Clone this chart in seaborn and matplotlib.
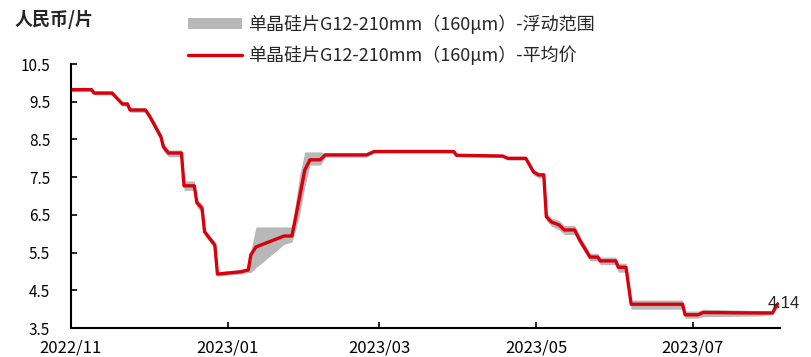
import pandas as pd
import numpy as np
import seaborn as sns
import matplotlib.pyplot as plt
from matplotlib.patches import Patch
from matplotlib.lines import Line2D

sns.set_style('ticks')
plt.rcParams['font.family'] = ['Noto Sans CJK SC', 'DejaVu Sans']
plt.rcParams['axes.unicode_minus'] = False

dates = ['2022-11-01', '2022-11-09', '2022-11-10', '2022-11-17', '2022-11-21', '2022-11-23',
         '2022-11-24', '2022-11-30', '2022-12-02', '2022-12-06', '2022-12-07', '2022-12-09',
         '2022-12-14', '2022-12-15', '2022-12-19', '2022-12-20', '2022-12-22', '2022-12-23',
         '2022-12-27', '2022-12-28', '2023-01-06', '2023-01-09', '2023-01-10', '2023-01-12',
         '2023-01-23', '2023-01-26', '2023-01-29', '2023-01-31', '2023-02-02', '2023-02-06',
         '2023-02-08', '2023-02-24', '2023-02-27', '2023-03-30', '2023-03-31', '2023-04-18',
         '2023-04-20', '2023-04-27', '2023-04-30', '2023-05-02', '2023-05-04', '2023-05-05',
         '2023-05-07', '2023-05-10', '2023-05-12', '2023-05-16', '2023-05-18', '2023-05-22',
         '2023-05-25', '2023-05-26', '2023-06-01', '2023-06-02', '2023-06-05', '2023-06-07',
         '2023-06-27', '2023-06-28', '2023-07-03', '2023-07-05', '2023-07-27', '2023-08-01',
         '2023-08-03']
avg = [9.82, 9.82, 9.73, 9.73, 9.44, 9.44,
       9.28, 9.28, 9.07, 8.57, 8.30, 8.14,
       8.14, 7.27, 7.27, 6.82, 6.68, 6.05,
       5.70, 4.93, 4.99, 5.04, 5.44, 5.65,
       5.94, 5.94, 6.98, 7.69, 7.96, 7.96,
       8.09, 8.09, 8.18, 8.18, 8.08, 8.06,
       8.00, 8.00, 7.64, 7.56, 7.56, 6.45,
       6.31, 6.23, 6.10, 6.10, 5.83, 5.38,
       5.38, 5.28, 5.28, 5.11, 5.11, 4.13,
       4.13, 3.85, 3.85, 3.91, 3.90, 3.90,
       4.14]
low = [9.77, 9.77, 9.68, 9.68, 9.38, 9.38,
       9.22, 9.22, 8.98, 8.45, 8.18, 8.04,
       8.04, 7.15, 7.15, 6.70, 6.55, 5.95,
       5.60, 4.88, 4.93, 4.97, 4.97, 5.10,
       5.72, 5.78, 6.50, 7.25, 7.82, 7.82,
       8.03, 8.03, 8.14, 8.14, 8.04, 8.02,
       7.95, 7.95, 7.55, 7.48, 7.48, 6.35,
       6.20, 6.10, 5.98, 5.98, 5.72, 5.28,
       5.28, 5.18, 5.18, 4.98, 4.98, 4.00,
       4.00, 3.76, 3.76, 3.80, 3.82, 3.86,
       4.10]
high = [9.88, 9.88, 9.78, 9.78, 9.50, 9.50,
        9.34, 9.34, 9.15, 8.65, 8.40, 8.22,
        8.22, 7.40, 7.40, 6.92, 6.78, 6.12,
        5.78, 4.99, 5.05, 5.09, 5.55, 6.18,
        6.18, 6.18, 7.55, 8.17, 8.17, 8.17,
        8.14, 8.14, 8.22, 8.22, 8.12, 8.10,
        8.04, 8.04, 7.70, 7.62, 7.62, 6.55,
        6.42, 6.35, 6.22, 6.22, 5.95, 5.48,
        5.48, 5.38, 5.38, 5.22, 5.22, 4.24,
        4.24, 3.95, 3.95, 4.00, 3.96, 3.94,
        4.18]

df = pd.DataFrame({'date': pd.to_datetime(dates), 'avg': avg, 'low': low, 'high': high})

red = '#d9000d'
gray = '#b8b8b8'

fig = plt.figure(figsize=(8.11, 3.57), dpi=100)
ax = fig.add_axes([0.0875, 0.0812, 0.8745, 0.7395])

ax.fill_between(df['date'], df['low'], df['high'], color=gray, linewidth=0)
sns.lineplot(data=df, x='date', y='avg', color=red, linewidth=2.4, ax=ax)

yt = np.arange(3.5, 10.6, 1.0)
ax.set_ylim(3.5, 10.5)
ax.set_yticks(yt)
ax.set_yticklabels(['%.1f' % v for v in yt], fontsize=11)
ax.set_xlim(pd.Timestamp('2022-11-01'), pd.Timestamp('2023-08-04'))
xt = pd.to_datetime(['2022-11-01', '2023-01-01', '2023-03-01', '2023-05-01', '2023-07-01'])
ax.set_xticks(xt)
ax.set_xticklabels([d.strftime('%Y/%m') for d in xt], fontsize=12)
ax.set_xlabel('')
ax.set_ylabel('')
ax.tick_params(axis='both', direction='in', length=4, width=1.2, colors='black')
ax.tick_params(axis='y', pad=15)
ax.tick_params(axis='x', pad=8)
for s in ['top', 'right']:
    ax.spines[s].set_visible(False)
for s in ['left', 'bottom']:
    ax.spines[s].set_color('black')
    ax.spines[s].set_linewidth(1.5)

ax.text(df['date'].iloc[-1] - pd.Timedelta(days=4), avg[-1], '%.2f' % avg[-1],
        fontsize=12, family=['Liberation Sans'], va='center', ha='left')

fig.text(0.018, 0.945, '人民币/片', fontsize=13, fontweight='bold', va='center', ha='left')

handles = [Patch(facecolor=gray, edgecolor='none'),
           Line2D([0], [0], color=red, linewidth=2.4)]
labels = ['单晶硅片G12-210mm（160μm）-浮动范围', '单晶硅片G12-210mm（160μm）-平均价']
fig.legend(handles, labels, loc='upper left', bbox_to_anchor=(0.212, 1.005), frameon=False,
           fontsize=13, handlelength=3.0, handleheight=0.6, labelspacing=0.65, handletextpad=0.3)

fig.savefig('out.png', dpi=100)
